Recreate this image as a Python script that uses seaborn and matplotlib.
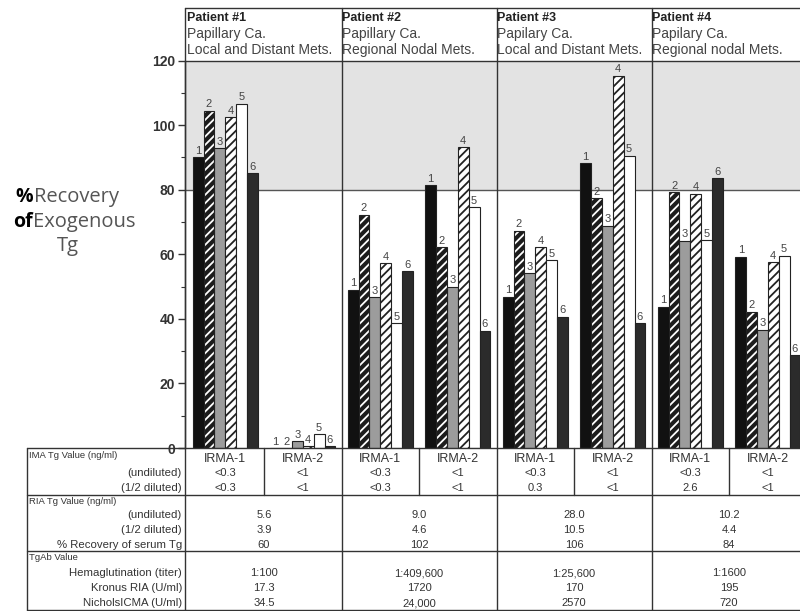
import numpy as np
import pandas as pd
import matplotlib
matplotlib.use("Agg")
import matplotlib.pyplot as plt
from matplotlib.patches import Rectangle
from matplotlib.transforms import blended_transform_factory
import seaborn as sns

# ---- data -------------------------------------------------------------
patients = ["Patient #1", "Patient #2", "Patient #3", "Patient #4"]
diagnosis = ["Papillary Ca.", "Papillary Ca.", "Papilary Ca.", "Papilary Ca."]
metastases = ["Local and Distant Mets.", "Regional Nodal Mets.",
              "Local and Distant Mets.", "Regional nodal Mets."]
assays = ["IRMA-1", "IRMA-2"]
bar_ids = ["1", "2", "3", "4", "5", "6"]

# % recovery of exogenous Tg, one list per sample number,
# ordered P1 IRMA-1, P1 IRMA-2, P2 IRMA-1, ... P4 IRMA-2
rec_1 = [90.0, 0.0, 49.0, 81.3, 46.9, 88.2, 43.8, 59.3]
rec_2 = [104.5, 0.0, 72.2, 62.2, 67.3, 77.4, 79.2, 42.2]
rec_3 = [92.8, 2.2, 46.7, 50.0, 54.1, 68.9, 64.2, 36.6]
rec_4 = [102.4, 0.6, 57.2, 93.1, 62.2, 115.3, 78.7, 57.5]
rec_5 = [106.6, 4.2, 38.6, 74.6, 58.2, 90.5, 64.4, 59.5]
rec_6 = [85.1, 0.6, 54.8, 36.3, 40.7, 38.6, 83.5, 28.8]

yticks = [0, 20, 40, 60, 80, 100, 120]

# table contents
ima_undiluted = ["<0.3", "<1", "<0.3", "<1", "<0.3", "<1", "<0.3", "<1"]
ima_diluted = ["<0.3", "<1", "<0.3", "<1", "0.3", "<1", "2.6", "<1"]
ria_undiluted = ["5.6", "9.0", "28.0", "10.2"]
ria_diluted = ["3.9", "4.6", "10.5", "4.4"]
ria_recovery = ["60", "102", "106", "84"]
hemaglutination = ["1:100", "1:409,600", "1:25,600", "1:1600"]
kronus = ["17.3", "1720", "170", "195"]
nichols = ["34.5", "24,000", "2570", "720"]

# ---- long table for seaborn ------------------------------------------
groups = [f"{p} {a}" for p in patients for a in assays]
series = [rec_1, rec_2, rec_3, rec_4, rec_5, rec_6]
rows = []
for bid, vals in zip(bar_ids, series):
    for g, v in zip(groups, vals):
        rows.append({"group": g, "sample": bid, "recovery": v})
df = pd.DataFrame(rows)

# ---- figure ----------------------------------------------------------
sns.set_style("white")
plt.rcParams["font.family"] = ["Liberation Sans", "DejaVu Sans"]
plt.rcParams["hatch.linewidth"] = 1.3

W, H = 800, 611
fig = plt.figure(figsize=(W / 100, H / 100), dpi=100)
fig.patch.set_facecolor("white")

ax_left, ax_right, ax_top, ax_bottom = 185, 806.6, 60.5, 448
ax = fig.add_axes([ax_left / W, (H - ax_bottom) / H,
                   (ax_right - ax_left) / W, (ax_bottom - ax_top) / H])

face = ["#111111", "#1c1c1c", "#9c9c9c", "white", "white", "#2b2b2b"]
sns.barplot(data=df, x="group", y="recovery", hue="sample",
            order=groups, hue_order=bar_ids, palette=face,
            width=0.84, gap=0, dodge=True, errorbar=None,
            saturation=1, legend=False, ax=ax, zorder=2)

ax.set_xlim(-0.52, 7.50)
ax.set_ylim(0, 120)

# shaded band above 80 %
ax.axhspan(80, 120, color="#e3e3e3", zorder=0, lw=0)
ax.axhline(80, color="#555555", lw=1.0, zorder=1)

# bar fills and sample-number labels
for k, cont in enumerate(ax.containers):
    for p in cont:
        p.set_linewidth(0.8)
        p.set_edgecolor("#222222")
        if k == 1:
            p.set_hatch("////")
            p.set_edgecolor("white")
            p.set_linewidth(0)
            ax.add_patch(Rectangle(p.get_xy(), p.get_width(), p.get_height(),
                                   fill=False, ec="#222222", lw=0.8, zorder=3))
        elif k == 3:
            p.set_hatch("////")
    ax.bar_label(cont, labels=[bar_ids[k]] * len(cont), padding=1,
                 fontsize=8, color="#444444")

ax.set_xticks([])
ax.set_xlabel("")
ax.set_ylabel("")
ax.set_yticks(yticks)
ax.set_yticks(np.arange(10, 120, 20), minor=True)
ax.tick_params(axis="y", which="major", length=5, width=1, color="#333333",
               labelsize=10, labelcolor="#333333", pad=2)
ax.tick_params(axis="y", which="minor", length=3, width=0.8, color="#333333")
ax.tick_params(axis="y", which="both", left=True)
for lab in ax.get_yticklabels():
    lab.set_fontweight("bold")
for s in ["top", "right", "bottom"]:
    ax.spines[s].set_visible(False)
ax.spines["left"].set_color("#333333")
ax.spines["left"].set_linewidth(1.0)

# ---- overlay for header boxes, dividers and the table ---------------
ov = fig.add_axes([0, 0, 1, 1], zorder=5)
ov.set_xlim(0, W)
ov.set_ylim(H, 0)
ov.axis("off")
ov.patch.set_alpha(0)
bt = blended_transform_factory(ax.transData, ov.transData)

lc = "#333333"
# header box
ov.plot([185, 810], [8, 8], color=lc, lw=1.0)
ov.plot([185, 810], [60.5, 60.5], color=lc, lw=1.0)
ov.plot([185, 185], [8, 610], color=lc, lw=1.0)
# patient dividers through header, plot and table
for xd in [1.5, 3.5, 5.5]:
    ov.plot([xd, xd], [8, 610], color=lc, lw=1.0, transform=bt)
# assay dividers in the IMA block
for xd in [0.5, 2.5, 4.5, 6.5]:
    ov.plot([xd, xd], [448, 495], color=lc, lw=1.0, transform=bt)
# table rules
for yy in [448, 495, 551, 610]:
    ov.plot([27, 810], [yy, yy], color=lc, lw=1.0)
ov.plot([27, 27], [448, 610], color=lc, lw=1.0)

# header texts
for i in range(4):
    x0 = -0.52 + 2 * i
    ov.text(x0 + 0.03, 18, patients[i], transform=bt, fontsize=9,
            fontweight="bold", color="#222222", va="center", ha="left")
    ov.text(x0 + 0.03, 34, diagnosis[i], transform=bt, fontsize=10,
            color="#444444", va="center", ha="left")
    ov.text(x0 + 0.03, 50, metastases[i], transform=bt, fontsize=10,
            color="#444444", va="center", ha="left")

# y-axis title
tc = "#555555"
ov.text(33, 197, "%", fontsize=14, fontweight="bold", color="black",
        ha="right", va="center", family="Open Sans")
ov.text(34, 197, "Recovery", fontsize=14.5, color=tc, ha="left", va="center",
        family="Open Sans")
ov.text(33, 222, "of", fontsize=14, fontweight="bold", color="black",
        ha="right", va="center", family="Open Sans")
ov.text(33, 222, "Exogenous", fontsize=14.5, color=tc, ha="left", va="center",
        family="Open Sans")
ov.text(68, 246, "Tg", fontsize=14.5, color=tc, ha="center", va="center",
        family="Open Sans")

# row labels
head_kw = dict(fontsize=6.8, color="#333333", va="center", ha="left")
lab_kw = dict(fontsize=8.2, color="#333333", va="center", ha="right")
ov.text(29, 455, "IMA Tg Value (ng/ml)", **head_kw)
ov.text(182, 473, "(undiluted)", **lab_kw)
ov.text(182, 488, "(1/2 diluted)", **lab_kw)
ov.text(29, 502, "RIA Tg Value (ng/ml)", **head_kw)
ov.text(182, 515, "(undiluted)", **lab_kw)
ov.text(182, 530, "(1/2 diluted)", **lab_kw)
ov.text(182, 545, "% Recovery of serum Tg", **lab_kw)
ov.text(29, 558, "TgAb Value", **head_kw)
ov.text(182, 573, "Hemaglutination (titer)", **lab_kw)
ov.text(182, 588, "Kronus RIA (U/ml)", **lab_kw)
ov.text(182, 603, "NicholsICMA (U/ml)", **lab_kw)

# cell values
val_kw = dict(fontsize=8, color="#333333", va="center", ha="center",
              transform=bt)
for g in range(8):
    ov.text(g, 459, assays[g % 2], fontsize=9, color="#333333",
            va="center", ha="center", transform=bt)
    ov.text(g, 473, ima_undiluted[g], **val_kw)
    ov.text(g, 488, ima_diluted[g], **val_kw)
for i in range(4):
    xc = 2 * i + 0.5
    ov.text(xc, 515, ria_undiluted[i], **val_kw)
    ov.text(xc, 530, ria_diluted[i], **val_kw)
    ov.text(xc, 545, ria_recovery[i], **val_kw)
    ov.text(xc, 573, hemaglutination[i], **val_kw)
    ov.text(xc, 588, kronus[i], **val_kw)
    ov.text(xc, 603, nichols[i], **val_kw)

fig.savefig("out.png", dpi=100)
